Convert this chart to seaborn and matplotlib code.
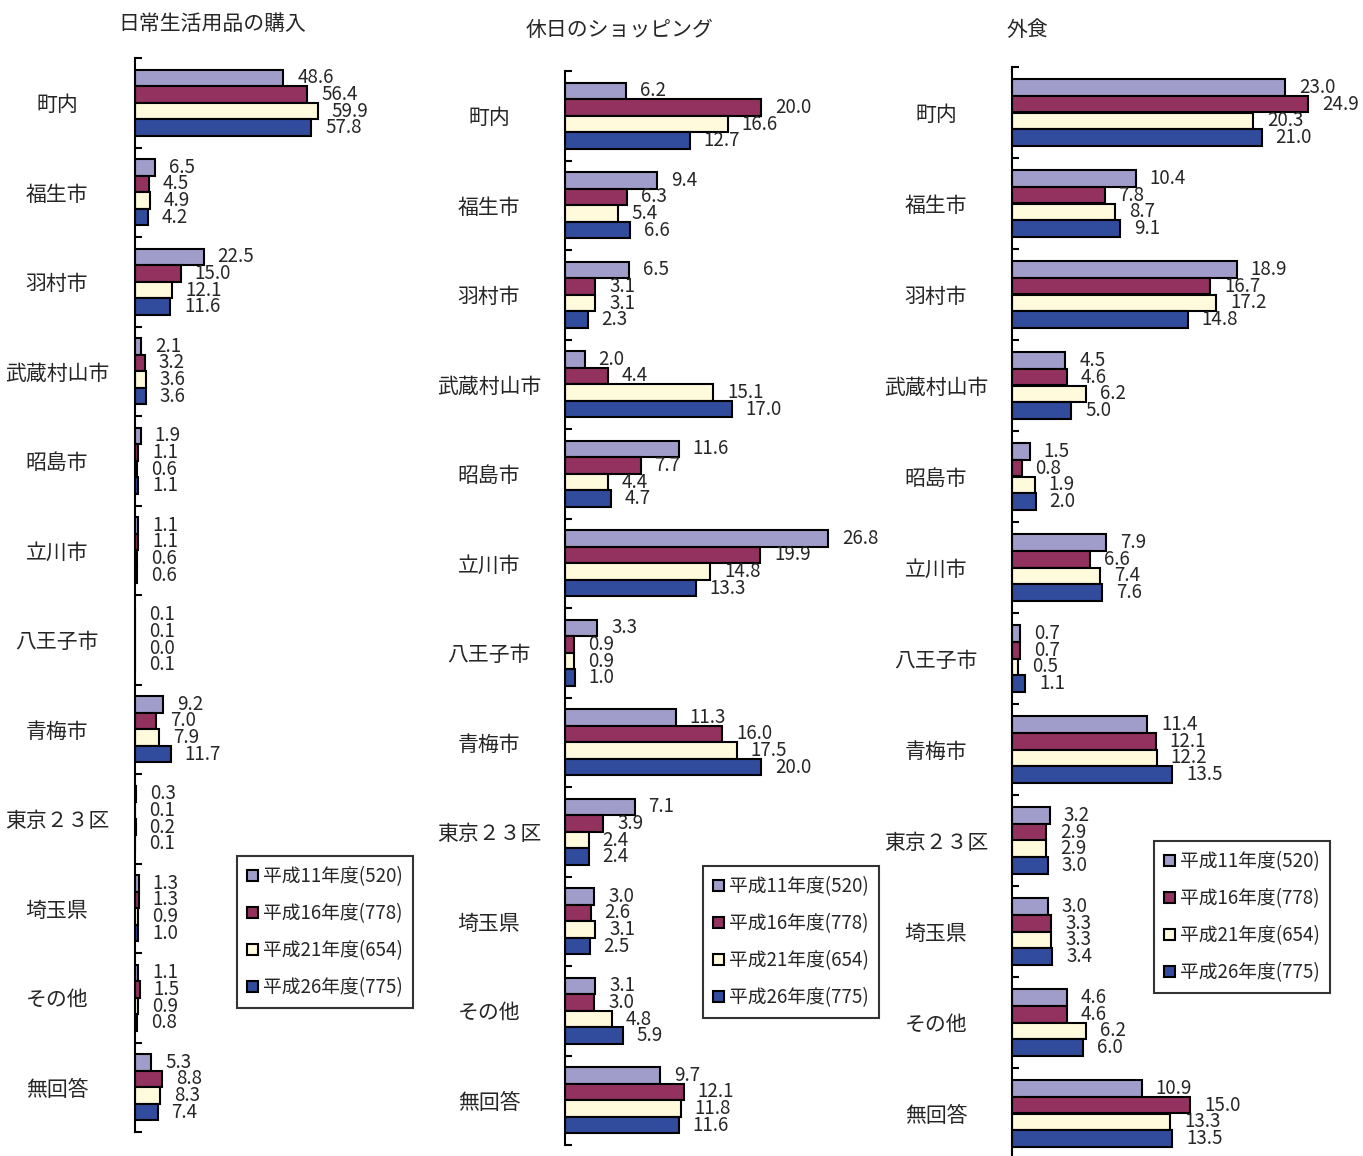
import pandas as pd
import numpy as np
import matplotlib
matplotlib.use("Agg")
import matplotlib.pyplot as plt
from matplotlib.ticker import FixedLocator
import seaborn as sns

sns.set_style("white")
plt.rcParams["font.family"] = ["Noto Sans CJK JP", "DejaVu Sans"]

categories = ["町内", "福生市", "羽村市", "武蔵村山市", "昭島市", "立川市",
              "八王子市", "青梅市", "東京２３区", "埼玉県", "その他", "無回答"]
years = ["平成11年度(520)", "平成16年度(778)", "平成21年度(654)", "平成26年度(775)"]
colors = ["#A19DCB", "#93325F", "#FFFADC", "#314C9C"]

titles = ["日常生活用品の購入", "休日のショッピング", "外食"]

# 日常生活用品の購入
daily_h11 = [48.6, 6.5, 22.5, 2.1, 1.9, 1.1, 0.1, 9.2, 0.3, 1.3, 1.1, 5.3]
daily_h16 = [56.4, 4.5, 15.0, 3.2, 1.1, 1.1, 0.1, 7.0, 0.1, 1.3, 1.5, 8.8]
daily_h21 = [59.9, 4.9, 12.1, 3.6, 0.6, 0.6, 0.0, 7.9, 0.2, 0.9, 0.9, 8.3]
daily_h26 = [57.8, 4.2, 11.6, 3.6, 1.1, 0.6, 0.1, 11.7, 0.1, 1.0, 0.8, 7.4]

# 休日のショッピング
shop_h11 = [6.2, 9.4, 6.5, 2.0, 11.6, 26.8, 3.3, 11.3, 7.1, 3.0, 3.1, 9.7]
shop_h16 = [20.0, 6.3, 3.1, 4.4, 7.7, 19.9, 0.9, 16.0, 3.9, 2.6, 3.0, 12.1]
shop_h21 = [16.6, 5.4, 3.1, 15.1, 4.4, 14.8, 0.9, 17.5, 2.4, 3.1, 4.8, 11.8]
shop_h26 = [12.7, 6.6, 2.3, 17.0, 4.7, 13.3, 1.0, 20.0, 2.4, 2.5, 5.9, 11.6]

# 外食
eat_h11 = [23.0, 10.4, 18.9, 4.5, 1.5, 7.9, 0.7, 11.4, 3.2, 3.0, 4.6, 10.9]
eat_h16 = [24.9, 7.8, 16.7, 4.6, 0.8, 6.6, 0.7, 12.1, 2.9, 3.3, 4.6, 15.0]
eat_h21 = [20.3, 8.7, 17.2, 6.2, 1.9, 7.4, 0.5, 12.2, 2.9, 3.3, 6.2, 13.3]
eat_h26 = [21.0, 9.1, 14.8, 5.0, 2.0, 7.6, 1.1, 13.5, 3.0, 3.4, 6.0, 13.5]

panels = [
    [daily_h11, daily_h16, daily_h21, daily_h26],
    [shop_h11, shop_h16, shop_h21, shop_h26],
    [eat_h11, eat_h16, eat_h21, eat_h26],
]

W, H = 1363, 1156
fig = plt.figure(figsize=(W / 100, H / 100), dpi=100)

# layout in pixels: left, top, bottom, width, xmax, label pad(px), legend box (x, y)
layout = [
    (135, 58, 1132, 290, 95.0, 78, (237, 856)),
    (565, 71, 1145, 315, 32.1, 76, (703, 866)),
    (1012, 67, 1159, 328, 27.6, 76, (1154, 841)),
]
title_pos = [(212, 24), (620, 30), (1027, 30)]

for i, (series, lay) in enumerate(zip(panels, layout)):
    left, top, bottom, width, xmax, lpad, (lx, ly) = lay
    ax = fig.add_axes([left / W, 1 - bottom / H, width / W, (bottom - top) / H])

    df = pd.DataFrame({
        "cat": np.repeat(categories, len(years)),
        "year": years * len(categories),
        "value": np.array(series).T.ravel(),
    })
    sns.barplot(data=df, y="cat", x="value", hue="year", order=categories,
                hue_order=years, palette=colors, saturation=1, orient="h",
                width=0.74, edgecolor="black", linewidth=1.5, ax=ax)

    for cont in ax.containers:
        ax.bar_label(cont, fmt="%.1f", padding=10, fontsize=13.5,
                     family=["Noto Sans CJK JP", "DejaVu Sans"])

    ax.set_xlim(0, xmax)
    ax.set_ylim(len(categories) - 0.5, -0.5)
    ax.set_xlabel("")
    ax.set_ylabel("")
    ax.set_xticks([])
    for s in ["top", "right", "bottom"]:
        ax.spines[s].set_visible(False)
    ax.spines["left"].set_linewidth(1.5)
    ax.spines["left"].set_color("black")

    ax.set_yticks(range(len(categories)))
    ax.set_yticklabels(categories, ha="center", fontsize=15)
    ax.tick_params(axis="y", which="major", length=0, pad=lpad * 0.72)
    ax.yaxis.set_minor_locator(FixedLocator(np.arange(-0.5, len(categories), 1.0)))
    ax.tick_params(axis="y", which="minor", direction="in", length=5,
                   width=1.5, color="black", left=True)

    leg = ax.legend(loc="upper left", bbox_to_anchor=(lx / W, 1 - ly / H),
                    bbox_transform=fig.transFigure, borderaxespad=0,
                    fontsize=13.5, frameon=True, fancybox=False,
                    handlelength=0.55, handleheight=0.55, handletextpad=0.3,
                    labelspacing=0.85, borderpad=0.55)
    leg.get_frame().set_edgecolor("black")
    leg.get_frame().set_linewidth(1.5)

    tx, ty = title_pos[i]
    fig.text(tx / W, 1 - ty / H, titles[i], ha="center", va="center", fontsize=15)

fig.savefig("out.png", dpi=100)
